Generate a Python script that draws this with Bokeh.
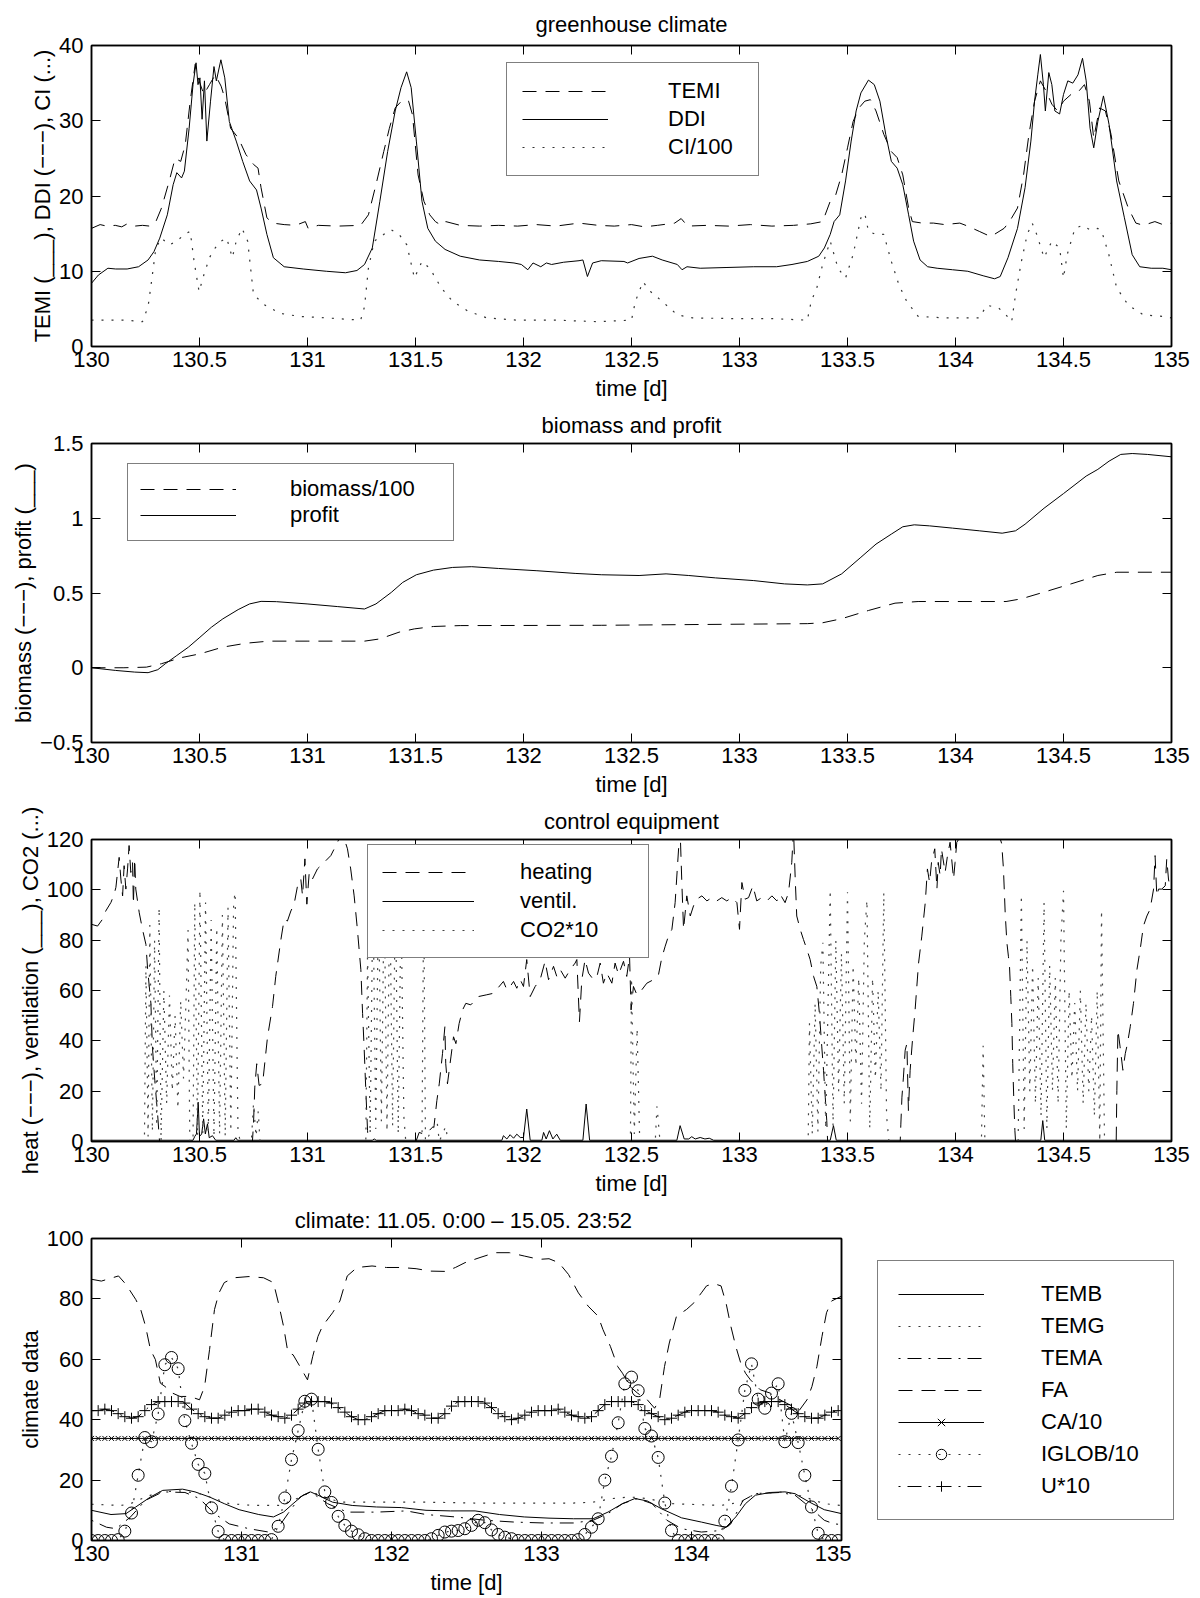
from bokeh.plotting import figure
from bokeh.layouts import row
from bokeh.models import Range1d, FixedTicker, LinearAxis, Legend, LegendItem, CustomJSTickFormatter
from bokeh.embed import file_html
from bokeh.resources import INLINE

FONT = "Liberation Sans"
FS = "22px"

# ---------------- tick labels ----------------
x_ticks_half = [130, 130.5, 131, 131.5, 132, 132.5, 133, 133.5, 134, 134.5, 135]
x_ticks_day = [130, 131, 132, 133, 134, 135]
y_ticks_1 = [0, 10, 20, 30, 40]
y_ticks_2 = [-0.5, 0, 0.5, 1, 1.5]
y_ticks_3 = [0, 20, 40, 60, 80, 100, 120]
y_ticks_4 = [0, 20, 40, 60, 80, 100]

# ---------------- panel 1: greenhouse climate ----------------
temi = [(130.000,15.7),(130.040,16.2),(130.070,16.0),(130.110,16.1),(130.140,15.9),(130.165,16.3),(130.200,16.0),(130.236,16.1),(130.270,16.0),(130.298,16.6),(130.324,18.4),(130.360,22.0),(130.387,25.0),(130.413,24.6),(130.434,26.8),(130.457,32.6),(130.480,37.5),(130.498,35.3),(130.520,33.5),(130.546,34.8),(130.573,36.1),(130.600,34.6),(130.617,33.0),(130.644,29.0),(130.680,27.7),(130.715,25.5),(130.750,24.2),(130.771,23.7),(130.785,21.1),(130.812,17.1),(130.839,16.4),(130.892,16.2),(130.945,16.1),(130.990,16.6),(131.003,15.7),(131.050,16.1),(131.140,16.0),(131.246,16.1),(131.282,17.5),(131.317,21.5),(131.353,25.9),(131.379,29.0),(131.406,31.7),(131.441,32.8),(131.468,32.6),(131.486,30.8),(131.512,22.8),(131.539,19.3),(131.566,17.5),(131.592,16.6),(131.619,16.1),(131.640,16.6),(131.707,16.1),(131.796,16.0),(131.885,16.1),(131.973,16.0),(132.060,16.2),(132.150,16.0),(132.257,16.4),(132.346,16.1),(132.420,16.0),(132.500,16.2),(132.560,15.9),(132.620,16.1),(132.700,16.4),(132.730,17.0),(132.760,16.0),(132.850,16.1),(132.950,16.0),(133.050,16.2),(133.150,16.0),(133.250,16.1),(133.330,16.3),(133.385,16.6),(133.420,19.3),(133.446,20.2),(133.473,22.8),(133.500,26.4),(133.526,29.9),(133.553,31.7),(133.580,32.6),(133.606,32.8),(133.632,31.3),(133.668,28.2),(133.703,25.9),(133.730,25.1),(133.756,22.8),(133.783,18.4),(133.800,16.6),(133.845,16.4),(133.898,16.4),(133.950,16.2),(134.020,16.4),(134.056,16.0),(134.110,15.3),(134.163,14.6),(134.225,15.7),(134.250,16.6),(134.287,18.4),(134.315,22.8),(134.340,28.2),(134.366,32.6),(134.393,35.3),(134.420,33.9),(134.446,32.2),(134.473,31.3),(134.500,32.6),(134.535,33.5),(134.570,33.9),(134.597,34.8),(134.620,32.6),(134.640,27.7),(134.667,31.7),(134.694,31.3),(134.720,28.2),(134.756,22.0),(134.800,18.4),(134.835,16.4),(134.870,16.1),(134.923,16.6),(134.960,16.2),(135.000,16.4)]

ddi = [(130.000,8.4),(130.032,9.5),(130.076,10.4),(130.112,10.3),(130.165,10.3),(130.218,10.6),(130.262,11.5),(130.289,12.6),(130.316,14.4),(130.351,17.5),(130.378,21.5),(130.395,23.1),(130.417,22.4),(130.430,23.3),(130.452,29.0),(130.470,34.8),(130.484,37.7),(130.493,34.8),(130.502,35.7),(130.512,30.2),(130.523,35.3),(130.534,27.3),(130.551,32.6),(130.567,37.2),(130.578,35.3),(130.599,38.1),(130.617,35.7),(130.638,29.9),(130.670,27.3),(130.700,24.6),(130.732,22.0),(130.764,20.8),(130.785,18.4),(130.812,14.9),(130.842,11.8),(130.892,10.6),(130.980,10.3),(131.087,10.0),(131.176,9.8),(131.229,10.1),(131.264,10.9),(131.300,13.1),(131.335,19.3),(131.371,25.9),(131.406,31.3),(131.433,34.4),(131.459,36.5),(131.480,34.4),(131.504,27.3),(131.530,19.3),(131.557,15.7),(131.592,14.0),(131.637,12.9),(131.707,12.0),(131.796,11.5),(131.885,11.3),(131.956,11.1),(131.990,10.9),(132.020,10.2),(132.044,11.1),(132.080,10.6),(132.106,11.1),(132.130,10.9),(132.186,11.2),(132.257,11.4),(132.275,11.5),(132.296,9.3),(132.320,11.1),(132.360,11.4),(132.465,11.3),(132.482,11.1),(132.535,11.7),(132.597,12.0),(132.642,11.5),(132.712,10.9),(132.734,10.2),(132.757,10.6),(132.818,10.4),(132.942,10.5),(133.066,10.6),(133.172,10.6),(133.243,10.9),(133.314,11.3),(133.367,12.0),(133.393,13.1),(133.420,14.9),(133.438,16.6),(133.464,17.5),(133.491,22.0),(133.517,27.3),(133.540,31.3),(133.562,33.7),(133.597,35.4),(133.624,34.8),(133.650,32.6),(133.677,28.2),(133.703,24.6),(133.730,23.7),(133.756,21.5),(133.783,17.5),(133.806,14.0),(133.836,11.5),(133.871,10.6),(133.915,10.4),(133.986,10.2),(134.057,10.0),(134.128,9.4),(134.181,9.0),(134.207,9.3),(134.243,11.8),(134.287,15.7),(134.322,21.1),(134.349,27.3),(134.366,32.6),(134.381,36.1),(134.393,38.8),(134.407,34.8),(134.416,31.3),(134.432,36.4),(134.446,34.8),(134.460,31.3),(134.482,30.9),(134.500,33.5),(134.520,35.3),(134.543,35.0),(134.567,36.1),(134.588,38.3),(134.605,35.3),(134.623,29.0),(134.640,26.4),(134.659,29.9),(134.685,33.3),(134.711,29.5),(134.746,22.0),(134.782,17.1),(134.818,12.2),(134.853,10.6),(134.906,10.4),(134.960,10.4),(135.000,10.2)]

ci100 = [(130.000,3.5),(130.165,3.5),(130.236,3.3),(130.262,5.3),(130.280,9.1),(130.298,13.1),(130.324,14.4),(130.360,13.5),(130.395,14.0),(130.430,14.9),(130.457,15.3),(130.475,11.3),(130.498,7.3),(130.520,9.5),(130.546,11.8),(130.573,13.1),(130.600,14.0),(130.626,14.4),(130.652,11.8),(130.670,14.0),(130.697,15.7),(130.723,14.0),(130.750,6.9),(130.803,5.5),(130.874,4.4),(130.963,4.0),(131.087,3.8),(131.246,3.5),(131.264,5.3),(131.282,10.4),(131.309,14.0),(131.353,14.9),(131.388,15.5),(131.424,14.9),(131.460,13.5),(131.495,9.1),(131.530,11.3),(131.566,10.4),(131.619,7.8),(131.672,6.0),(131.743,4.7),(131.830,3.8),(131.973,3.5),(132.150,3.5),(132.346,3.3),(132.500,3.5),(132.518,6.0),(132.553,8.6),(132.588,7.3),(132.642,6.0),(132.712,4.2),(132.783,3.8),(132.978,3.7),(133.155,3.7),(133.314,3.5),(133.332,6.0),(133.358,7.8),(133.385,10.9),(133.420,14.0),(133.456,10.4),(133.491,9.1),(133.526,12.2),(133.562,17.1),(133.580,17.7),(133.597,15.3),(133.632,14.9),(133.668,14.9),(133.703,11.3),(133.738,8.2),(133.774,6.0),(133.827,4.0),(133.950,3.8),(134.110,3.8),(134.145,5.5),(134.200,5.1),(134.234,4.2),(134.260,3.3),(134.278,6.9),(134.305,11.3),(134.332,14.9),(134.355,16.4),(134.376,14.9),(134.410,11.8),(134.446,14.0),(134.482,13.1),(134.500,9.1),(134.517,12.2),(134.553,15.7),(134.588,16.1),(134.623,15.5),(134.659,15.7),(134.677,15.3),(134.710,12.2),(134.746,7.8),(134.800,5.5),(134.870,4.2),(134.960,4.0),(135.000,3.8)]

# ---------------- panel 2: biomass and profit ----------------
biomass100 = [(130.000,0.0),(130.150,0.0),(130.254,0.004),(130.324,0.027),(130.413,0.067),(130.502,0.093),(130.608,0.138),(130.715,0.164),(130.820,0.178),(130.998,0.178),(131.264,0.178),(131.335,0.193),(131.424,0.238),(131.495,0.260),(131.583,0.276),(131.707,0.282),(132.360,0.284),(133.314,0.295),(133.385,0.301),(133.473,0.328),(133.597,0.383),(133.720,0.432),(133.827,0.443),(134.234,0.443),(134.305,0.461),(134.410,0.506),(134.535,0.561),(134.659,0.617),(134.747,0.639),(135.000,0.639)]

profit = [(130.000,0.0),(130.112,-0.018),(130.200,-0.029),(130.262,-0.033),(130.307,-0.013),(130.342,0.027),(130.395,0.082),(130.449,0.138),(130.502,0.204),(130.555,0.271),(130.608,0.327),(130.679,0.389),(130.732,0.427),(130.785,0.444),(130.856,0.442),(130.998,0.427),(131.140,0.409),(131.264,0.393),(131.317,0.427),(131.388,0.504),(131.441,0.571),(131.504,0.622),(131.583,0.653),(131.672,0.671),(131.760,0.676),(131.885,0.664),(132.062,0.649),(132.239,0.631),(132.360,0.622),(132.535,0.617),(132.660,0.628),(132.765,0.617),(132.889,0.601),(133.066,0.583),(133.208,0.561),(133.314,0.554),(133.385,0.561),(133.473,0.628),(133.562,0.739),(133.632,0.827),(133.703,0.894),(133.756,0.943),(133.809,0.956),(133.880,0.949),(133.986,0.934),(134.110,0.916),(134.216,0.900),(134.278,0.916),(134.322,0.960),(134.410,1.067),(134.500,1.165),(134.605,1.282),(134.659,1.327),(134.711,1.382),(134.765,1.427),(134.818,1.433),(134.888,1.427),(135.000,1.411)]

# ---------------- panel 3: control equipment ----------------
heating = [(130.000,86.3),(130.028,85.6),(130.051,88.3),(130.066,91.6),(130.090,95.0),(130.105,98.3),(130.113,101.0),(130.128,112.9),(130.136,104.3),(130.144,97.6),(130.151,109.6),(130.159,100.3),(130.167,108.3),(130.174,117.6),(130.182,106.9),(130.190,110.9),(130.194,94.3),(130.200,112.3),(130.205,100.3),(130.221,90.9),(130.236,84.3),(130.252,78.3),(130.260,68.3),(130.275,54.9),(130.282,37.6),(130.293,24.3),(130.306,10.9),(130.315,0.0),(130.745,0.0),(130.750,6.9),(130.756,21.6),(130.765,30.9),(130.776,22.3),(130.792,22.9),(130.815,41.6),(130.838,53.6),(130.853,65.6),(130.877,80.3),(130.892,88.3),(130.907,87.6),(130.923,91.6),(130.938,94.3),(130.954,101.6),(130.969,104.3),(130.977,97.6),(130.988,112.3),(130.997,94.3),(131.008,106.9),(131.023,104.3),(131.046,108.3),(131.077,110.9),(131.108,113.6),(131.139,118.9),(131.160,123.0),(131.185,116.3),(131.200,108.3),(131.216,97.6),(131.231,84.3),(131.247,68.3),(131.255,50.9),(131.262,37.6),(131.270,20.3),(131.278,4.3),(131.282,0.0),(131.502,0.0),(131.517,3.6),(131.540,2.9),(131.563,4.3),(131.586,6.3),(131.599,16.3),(131.610,22.9),(131.625,34.9),(131.636,45.6),(131.640,30.9),(131.648,22.9),(131.664,33.6),(131.676,41.6),(131.687,38.9),(131.702,46.9),(131.718,52.3),(131.733,54.9),(131.756,54.3),(131.792,57.6),(131.830,58.3),(131.861,58.9),(131.907,63.6),(131.923,60.3),(131.938,61.6),(131.954,63.6),(131.969,60.9),(131.985,64.3),(132.000,61.6),(132.015,72.3),(132.031,57.6),(132.054,61.6),(132.077,64.3),(132.100,71.6),(132.116,64.3),(132.139,69.6),(132.154,65.6),(132.170,68.3),(132.193,64.9),(132.216,68.3),(132.239,70.9),(132.247,72.3),(132.259,47.6),(132.270,64.3),(132.285,72.3),(132.301,66.9),(132.324,64.3),(132.340,65.6),(132.355,70.9),(132.370,62.9),(132.386,66.9),(132.409,62.9),(132.424,70.9),(132.440,66.3),(132.463,71.6),(132.478,65.6),(132.491,73.6),(132.498,52.3),(132.509,61.6),(132.525,58.3),(132.548,60.3),(132.571,62.9),(132.602,64.3),(132.625,66.3),(132.640,72.9),(132.656,77.6),(132.671,81.6),(132.687,84.3),(132.702,94.9),(132.718,116.3),(132.725,124.0),(132.733,102.9),(132.741,84.3),(132.756,97.6),(132.772,89.6),(132.787,93.6),(132.802,96.3),(132.826,97.6),(132.849,95.6),(132.872,96.9),(132.895,95.6),(132.918,96.9),(132.941,95.6),(132.965,96.9),(132.988,94.9),(133.000,84.3),(133.011,102.9),(133.026,96.3),(133.042,96.9),(133.062,101.6),(133.080,95.6),(133.103,96.9),(133.127,95.6),(133.150,97.6),(133.173,95.6),(133.188,98.3),(133.211,94.9),(133.227,98.9),(133.242,110.9),(133.250,124.0),(133.258,104.3),(133.265,89.6),(133.281,84.3),(133.296,80.3),(133.312,76.3),(133.327,72.3),(133.343,65.6),(133.358,61.6),(133.370,50.9),(133.381,37.6),(133.389,28.3),(133.397,17.6),(133.404,8.3),(133.408,0.0),(133.744,0.0),(133.747,6.9),(133.752,17.6),(133.759,25.6),(133.767,36.3),(133.775,38.9),(133.782,12.3),(133.790,28.3),(133.802,41.6),(133.813,52.3),(133.829,70.9),(133.844,81.6),(133.860,94.9),(133.870,108.3),(133.880,102.9),(133.889,110.9),(133.904,116.3),(133.914,100.3),(133.920,110.9),(133.929,105.6),(133.935,116.3),(133.952,106.9),(133.963,113.6),(133.975,118.9),(133.991,104.3),(133.998,110.9),(134.006,118.9),(134.022,121.0),(134.060,130.0),(134.120,135.0),(134.180,128.0),(134.214,118.3),(134.222,108.3),(134.230,90.9),(134.238,78.9),(134.245,73.6),(134.250,69.6),(134.256,57.6),(134.261,46.9),(134.265,30.9),(134.270,16.3),(134.275,4.3),(134.278,0.0),(134.744,0.0),(134.747,20.3),(134.752,44.3),(134.762,37.6),(134.775,28.3),(134.786,34.9),(134.796,38.9),(134.809,45.6),(134.824,54.9),(134.840,68.3),(134.855,76.3),(134.870,85.6),(134.886,89.6),(134.901,92.3),(134.917,100.3),(134.924,113.6),(134.932,97.6),(134.940,100.3),(134.955,100.3),(134.971,101.6),(134.978,112.3),(134.986,104.3),(134.994,100.3),(135.000,100.3)]

ventil = [(130.000,0.5),(130.470,0.5),(130.478,2.0),(130.486,3.0),(130.494,15.6),(130.500,2.0),(130.510,3.0),(130.519,9.0),(130.527,3.0),(130.537,7.0),(130.545,1.5),(130.560,2.3),(130.575,0.5),(130.660,0.5),(130.668,1.5),(130.676,0.5),(131.300,0.5),(131.309,1.0),(131.318,0.5),(131.900,0.5),(131.907,2.3),(131.923,1.0),(131.938,2.7),(131.954,1.3),(131.969,2.9),(131.985,1.6),(132.000,1.6),(132.015,12.9),(132.031,0.5),(132.085,0.5),(132.093,3.6),(132.105,1.0),(132.120,4.3),(132.136,1.0),(132.154,2.9),(132.170,0.5),(132.275,0.5),(132.290,14.9),(132.306,0.5),(132.710,0.5),(132.725,6.3),(132.744,1.0),(132.765,1.0),(132.779,1.9),(132.795,1.0),(132.818,1.6),(132.840,1.0),(132.860,1.3),(132.880,0.5),(133.420,0.5),(133.435,6.3),(133.448,0.5),(134.395,0.5),(134.404,8.3),(134.413,0.5),(135.000,0.5)]

co2x10 = [(130.000,0),(130.245,0),(130.252,70),(130.262,2),(130.270,86),(130.282,4),(130.292,80),(130.302,6),(130.313,93),(130.322,0),(130.335,60),(130.348,15),(130.361,58),(130.374,20),(130.387,50),(130.400,13),(130.413,56),(130.426,25),(130.439,60),(130.447,84),(130.455,0),(130.470,0),(130.478,95),(130.491,2),(130.502,100),(130.515,3),(130.528,95),(130.541,4),(130.554,88),(130.567,2),(130.580,85),(130.593,3),(130.606,90),(130.619,2),(130.632,93),(130.645,4),(130.658,95),(130.665,99),(130.678,5),(130.688,0),(130.740,0),(130.750,15),(130.762,2),(130.772,12),(130.780,0),(131.270,0),(131.278,75),(131.290,3),(131.303,100),(131.316,5),(131.329,100),(131.342,8),(131.355,100),(131.368,4),(131.381,100),(131.394,6),(131.407,100),(131.420,3),(131.433,95),(131.446,10),(131.455,0),(131.530,0),(131.538,100),(131.546,0),(131.600,8),(131.610,0),(131.640,6),(131.650,0),(132.495,0),(132.500,65),(132.513,3),(132.526,45),(132.538,0),(132.610,0),(132.618,14),(132.630,2),(132.640,0),(133.318,0),(133.324,47),(133.337,3),(133.350,55),(133.363,4),(133.376,70),(133.386,79),(133.399,5),(133.420,100),(133.433,6),(133.446,80),(133.459,20),(133.472,75),(133.485,15),(133.500,99),(133.513,8),(133.526,70),(133.539,30),(133.552,65),(133.565,15),(133.578,80),(133.590,96),(133.603,5),(133.616,65),(133.629,25),(133.642,60),(133.655,20),(133.668,99),(133.681,10),(133.692,0),(134.120,0),(134.128,38),(134.136,0),(134.290,0),(134.305,98),(134.318,5),(134.331,80),(134.344,20),(134.357,70),(134.370,15),(134.383,65),(134.396,10),(134.410,95),(134.423,5),(134.436,70),(134.449,20),(134.462,65),(134.475,15),(134.488,80),(134.500,99.6),(134.513,5),(134.526,60),(134.539,25),(134.552,55),(134.565,20),(134.578,60),(134.591,15),(134.604,55),(134.617,20),(134.630,50),(134.643,10),(134.656,60),(134.668,0),(134.676,92),(134.690,0),(135.000,0)]

# ---------------- panel 4: outside climate ----------------
temb = [(130.000,10.0),(130.130,8.6),(130.230,8.9),(130.295,11.1),(130.393,14.4),(130.475,16.6),(130.607,17.0),(130.690,16.1),(130.787,14.4),(130.885,12.2),(130.984,10.2),(131.115,8.6),(131.213,7.8),(131.280,9.4),(131.344,12.2),(131.410,15.0),(131.460,16.1),(131.510,15.0),(131.607,12.7),(131.738,11.6),(131.900,11.1),(132.066,10.9),(132.230,10.0),(132.393,9.8),(132.557,9.8),(132.720,8.6),(132.885,7.8),(133.050,7.4),(133.213,7.2),(133.344,7.2),(133.443,9.4),(133.540,12.2),(133.623,13.9),(133.705,13.1),(133.800,10.5),(133.934,7.5),(134.066,6.1),(134.164,5.0),(134.230,4.4),(134.295,7.8),(134.360,12.2),(134.426,15.0),(134.525,15.9),(134.623,16.1),(134.690,15.5),(134.787,12.7),(134.885,10.2),(135.000,8.9)]
temg = [(130.000,12.0),(130.197,11.6),(130.260,12.2),(130.360,14.4),(130.460,16.1),(130.590,16.4),(130.720,15.5),(130.820,13.9),(130.918,12.2),(131.080,11.6),(131.246,11.6),(131.344,13.3),(131.440,15.5),(131.510,15.5),(131.574,13.9),(131.670,12.7),(131.900,12.7),(132.230,12.7),(132.557,12.4),(132.885,12.4),(133.213,12.4),(133.344,12.7),(133.475,13.9),(133.590,14.4),(133.705,13.9),(133.870,12.2),(134.197,11.6),(134.328,12.7),(134.426,15.5),(134.623,16.1),(134.754,14.4),(134.885,12.2),(135.000,11.6)]
tema = [(130.000,6.7),(130.100,4.4),(130.164,3.9),(130.260,7.8),(130.360,13.3),(130.475,16.1),(130.623,15.9),(130.720,13.9),(130.820,8.9),(130.918,5.5),(131.050,3.9),(131.180,2.8),(131.246,4.4),(131.310,8.9),(131.390,14.4),(131.460,16.1),(131.510,14.4),(131.574,12.2),(131.705,9.4),(131.900,9.4),(132.100,9.8),(132.230,8.6),(132.426,7.8),(132.623,6.7),(132.820,6.1),(133.016,5.8),(133.213,5.8),(133.344,6.7),(133.443,8.9),(133.540,12.2),(133.640,13.9),(133.738,12.2),(133.836,6.7),(133.934,3.9),(134.066,2.8),(134.197,3.3),(134.262,5.5),(134.344,13.3),(134.426,15.5),(134.590,15.9),(134.690,15.0),(134.787,11.1),(134.885,6.7),(134.950,5.5),(135.000,5.3)]
fa = [(130.000,86.5),(130.066,85.9),(130.180,87.6),(130.230,84.8),(130.295,79.8),(130.328,76.5),(130.360,71.0),(130.393,63.2),(130.426,59.9),(130.459,52.1),(130.490,51.0),(130.540,48.8),(130.590,47.7),(130.656,47.7),(130.720,46.6),(130.754,51.0),(130.787,63.2),(130.820,76.5),(130.850,82.0),(130.885,85.4),(130.950,87.0),(131.050,87.4),(131.147,87.0),(131.213,85.4),(131.246,78.7),(131.280,71.0),(131.310,62.1),(131.344,61.5),(131.390,57.6),(131.440,53.2),(131.475,61.0),(131.510,67.6),(131.540,71.0),(131.607,75.4),(131.656,79.3),(131.705,87.6),(131.770,90.4),(131.870,90.9),(131.967,90.4),(132.066,90.4),(132.164,90.0),(132.260,89.2),(132.360,89.1),(132.426,90.4),(132.490,92.0),(132.590,93.7),(132.690,95.3),(132.787,95.3),(132.885,94.2),(132.984,93.1),(133.050,93.3),(133.115,92.0),(133.180,88.1),(133.246,82.0),(133.311,77.6),(133.377,74.3),(133.410,69.8),(133.459,64.3),(133.508,57.6),(133.540,55.4),(133.590,51.0),(133.640,48.8),(133.705,46.6),(133.754,43.8),(133.787,46.6),(133.820,57.6),(133.852,65.4),(133.900,74.3),(133.967,76.5),(134.016,78.7),(134.066,82.0),(134.100,84.3),(134.148,85.1),(134.197,84.3),(134.230,78.7),(134.262,71.0),(134.295,64.3),(134.328,58.8),(134.360,55.4),(134.393,53.2),(134.459,49.9),(134.525,48.8),(134.590,46.6),(134.656,44.9),(134.720,43.2),(134.770,46.6),(134.803,51.0),(134.836,57.6),(134.870,67.6),(134.900,75.4),(134.934,79.3),(135.000,80.9)]

# marker series sampled every 64 min (8/180 d), 113 samples from day 130.0
n_marker = 113
ca10 = [33.8] * n_marker
iglob10 = [0,0,0,0,0.3,3.1,9.1,21.6,34.1,32.7,41.9,58.2,60.6,56.9,39.7,32.2,25.2,22.2,10.8,3.0,
           0,0,0,0,0,0,0,0.3,4.7,14.1,26.8,36.4,46.1,46.8,30.2,16.1,12.6,8.0,5.0,3.1,
           1.9,0.6,0,0,0,0,0,0,0,0,0,0.6,1.7,2.8,3.1,3.3,3.9,5.0,6.7,5.9,
           3.5,2.0,1.1,0.6,0,0,0,0,0,0,0,0,0,0.3,2.0,4.4,7.2,20.0,27.9,39.0,
           51.9,54.1,49.6,37.1,34.6,27.5,12.4,3.3,0,0,0,0,0,0,0,6.4,18.0,33.3,49.7,58.5,
           46.8,43.8,48.8,51.9,32.7,42.1,32.4,21.6,11.1,2.4,0,0,0]
u10 = [43,43,43.5,43,42,41,40.5,41,43,45,46,46,46,46,45.5,43.5,42,41,40.5,40.5,
       41.5,42.5,43,43,43.5,43.5,42.5,41.5,41,40.5,41.5,43.5,45.5,46,46,46,45.5,44,42.5,41,
       40,40,41,42,43,43,43,43.5,43,42,41.5,40.5,40.5,42,44.5,46,46,46,46,45.5,
       44,42,41,40,40.5,41.5,42.5,43,43,43,43.5,42.5,41.5,41,40.5,41,43,45,46,46,
       46,46,45,43,42,41,40,40.5,41.5,42.5,43,43,43,43,42.5,41.5,41,40.5,42,44,
       45.5,46,46,46,45,43.5,42,41,40.5,40.5,41.5,42.5,43]
t_marker = [130 + k * 8.0 / 180.0 for k in range(n_marker)]


def xy(pairs):
    return [a for a, b in pairs], [b for a, b in pairs]


FMT = CustomJSTickFormatter(code="return String(tick).replace('-', '\u2212');")
FIG_W = 1195


def make_fig(w, h, top, bottom, right, ylo, yhi, yticks, xticks, ylabel, title, title_standoff, xlab_standoff):
    p = figure(width=w, height=h, x_range=Range1d(130, 135), y_range=Range1d(ylo, yhi),
               output_backend="svg", toolbar_location=None,
               min_border_left=91, min_border_right=right, min_border_top=top, min_border_bottom=bottom)
    p.title.text = title
    p.title.align = "center"
    p.title.text_font = FONT
    p.title.text_font_size = FS
    p.title.text_font_style = "normal"
    p.title.text_color = "black"
    p.title.standoff = title_standoff
    p.grid.visible = False
    p.outline_line_color = "black"
    p.outline_line_width = 1.5
    p.add_layout(LinearAxis(), "above")
    p.add_layout(LinearAxis(), "right")
    for ax in p.xaxis:
        ax.ticker = FixedTicker(ticks=xticks)
    for ax in p.yaxis:
        ax.ticker = FixedTicker(ticks=yticks)
    for ax in p.axis:
        ax.formatter = FMT
        ax.major_tick_in = 9
        ax.major_tick_out = 0
        ax.minor_tick_line_color = None
        ax.major_tick_line_color = "black"
        ax.major_tick_line_width = 1
        ax.axis_line_color = "black"
        ax.axis_line_width = 1.5
        ax.major_label_text_font = FONT
        ax.major_label_text_font_size = FS
        ax.major_label_text_color = "black"
        ax.axis_label_text_font = FONT
        ax.axis_label_text_font_size = FS
        ax.axis_label_text_font_style = "normal"
        ax.axis_label_text_color = "black"
    p.below[0].axis_label = "time [d]"
    p.below[0].major_label_standoff = 5
    p.below[0].axis_label_standoff = xlab_standoff
    p.left[0].axis_label = ylabel
    p.left[0].major_label_standoff = 8
    p.left[0].axis_label_standoff = 1
    # mirror axes: ticks only, labels not drawn
    for ax in (p.above[0], p.right[0]):
        ax.major_label_text_font_size = "1px"
        ax.major_label_text_color = None
        ax.major_label_standoff = 0
        ax.axis_label = None
    return p


def make_legend(items, loc, pad, spacing, glyph_w, standoff, label_w):
    return Legend(items=[LegendItem(label=l, renderers=r) for l, r in items], location=loc,
                  orientation="vertical", margin=0, padding=pad, spacing=spacing,
                  glyph_width=glyph_w, glyph_height=26, label_height=26, label_width=label_w,
                  label_standoff=standoff, label_text_font=FONT, label_text_font_size=FS,
                  label_text_color="black", border_line_color="black", border_line_width=1.5,
                  background_fill_color="white", background_fill_alpha=1.0)


DASH = "14 9"
DOT = "2 8"
DASHDOT = "2 7 14 7"

# ---- panel 1
p1 = make_fig(FIG_W, 404, 45, 58, 24, 0, 40, y_ticks_1, x_ticks_half,
              "TEMI (___), DDI (\u2212\u2212\u2212), CI (...)", "greenhouse climate", 17, 6)
x, y = xy(temi); r_temi = p1.line(x, y, line_color="black", line_width=1, line_dash=DASH)
x, y = xy(ddi); r_ddi = p1.line(x, y, line_color="black", line_width=1)
x, y = xy(ci100); r_ci = p1.line(x, y, line_color="#333333", line_width=1.2, line_dash=DOT)
p1.add_layout(make_legend([("TEMI", [r_temi]), ("DDI", [r_ddi]), ("CI/100", [r_ci])],
                          (415, 170), 15, 2, 86, 60, 75), "center")

# ---- panel 2
p2 = make_fig(FIG_W, 396, 39, 58, 24, -0.5, 1.5, y_ticks_2, x_ticks_half,
              "biomass (\u2212\u2212\u2212), profit (___)", "biomass and profit", 12, 6)
x, y = xy(biomass100); r_bio = p2.line(x, y, line_color="black", line_width=1, line_dash=DASH)
x, y = xy(profit); r_prof = p2.line(x, y, line_color="black", line_width=1)
p2.add_layout(make_legend([("biomass/100", [r_bio]), ("profit", [r_prof])],
                          (36, 201), 12, 0, 96, 54, 151), "center")

# ---- panel 3
p3 = make_fig(FIG_W, 399, 39, 58, 24, 0, 120, y_ticks_3, x_ticks_half,
              "heat (\u2212\u2212\u2212), ventilation (___), CO2 (...)", "control equipment", 12, 6)
x, y = xy(heating); r_heat = p3.line(x, y, line_color="black", line_width=1, line_dash=DASH)
x, y = xy(ventil); r_vent = p3.line(x, y, line_color="black", line_width=1)
x, y = xy(co2x10); r_co2 = p3.line(x, y, line_color="#444444", line_width=1.2, line_dash=DOT)
p3.add_layout(make_legend([("heating", [r_heat]), ("ventil.", [r_vent]), ("CO2*10", [r_co2])],
                          (276, 183), 14, 3, 92, 46, 114), "center")

# ---- panel 4 (plot) + legend figure to its right
P4_W = 91 + 750 + 10
p4 = make_fig(P4_W, 399, 39, 58, 10, 0, 100, y_ticks_4, x_ticks_day,
              "climate data", "climate: 11.05.  0:00 \u2013 15.05. 23:52", 12, 6)
x, y = xy(temb); p4.line(x, y, line_color="black", line_width=1)
x, y = xy(temg); p4.line(x, y, line_color="#333333", line_width=1.2, line_dash=DOT)
x, y = xy(tema); p4.line(x, y, line_color="black", line_width=1, line_dash=DASHDOT)
x, y = xy(fa); p4.line(x, y, line_color="black", line_width=1, line_dash=DASH)
p4.line(t_marker, ca10, line_color="black", line_width=1)
p4.scatter(t_marker, ca10, marker="x", size=7, line_color="black", line_width=1)
p4.line(t_marker, iglob10, line_color="#333333", line_width=1.2, line_dash=DOT)
p4.scatter(t_marker, iglob10, marker="circle", size=12, fill_color=None, line_color="black", line_width=1)
p4.line(t_marker, u10, line_color="black", line_width=1, line_dash=DASHDOT)
p4.scatter(t_marker, u10, marker="cross", size=11, line_color="black", line_width=1)

lf = figure(width=FIG_W - P4_W, height=399, x_range=Range1d(0, 1), y_range=Range1d(0, 1),
            output_backend="svg", toolbar_location=None, x_axis_type=None, y_axis_type=None,
            min_border_left=0, min_border_right=0, min_border_top=39, min_border_bottom=58)
lf.grid.visible = False
lf.outline_line_color = None
# legend keys: style samples only (a single undefined point, nothing is drawn in the plot area)
NO = [float("nan")]
k_temb = lf.line(NO, NO, line_color="black", line_width=1)
k_temg = lf.line(NO, NO, line_color="#333333", line_width=1.2, line_dash=DOT)
k_tema = lf.line(NO, NO, line_color="black", line_width=1, line_dash=DASHDOT)
k_fa = lf.line(NO, NO, line_color="black", line_width=1, line_dash=DASH)
k_cal = lf.line(NO, NO, line_color="black", line_width=1)
k_cam = lf.scatter(NO, NO, marker="x", size=7, line_color="black", line_width=1)
k_igl = lf.line(NO, NO, line_color="#333333", line_width=1.2, line_dash=DOT)
k_igm = lf.scatter(NO, NO, marker="circle", size=12, fill_color=None, line_color="black", line_width=1)
k_ul = lf.line(NO, NO, line_color="black", line_width=1, line_dash=DASHDOT)
k_um = lf.scatter(NO, NO, marker="cross", size=11, line_color="black", line_width=1)
lf.add_layout(make_legend([("TEMB", [k_temb]), ("TEMG", [k_temg]), ("TEMA", [k_tema]), ("FA", [k_fa]),
                           ("CA/10", [k_cal, k_cam]), ("IGLOB/10", [k_igl, k_igm]), ("U*10", [k_ul, k_um])],
                          (26, 20), 20, 6, 86, 57, 112), "center")

open("out.html", "w").write(file_html([p1, p2, p3, row(p4, lf)], INLINE))
